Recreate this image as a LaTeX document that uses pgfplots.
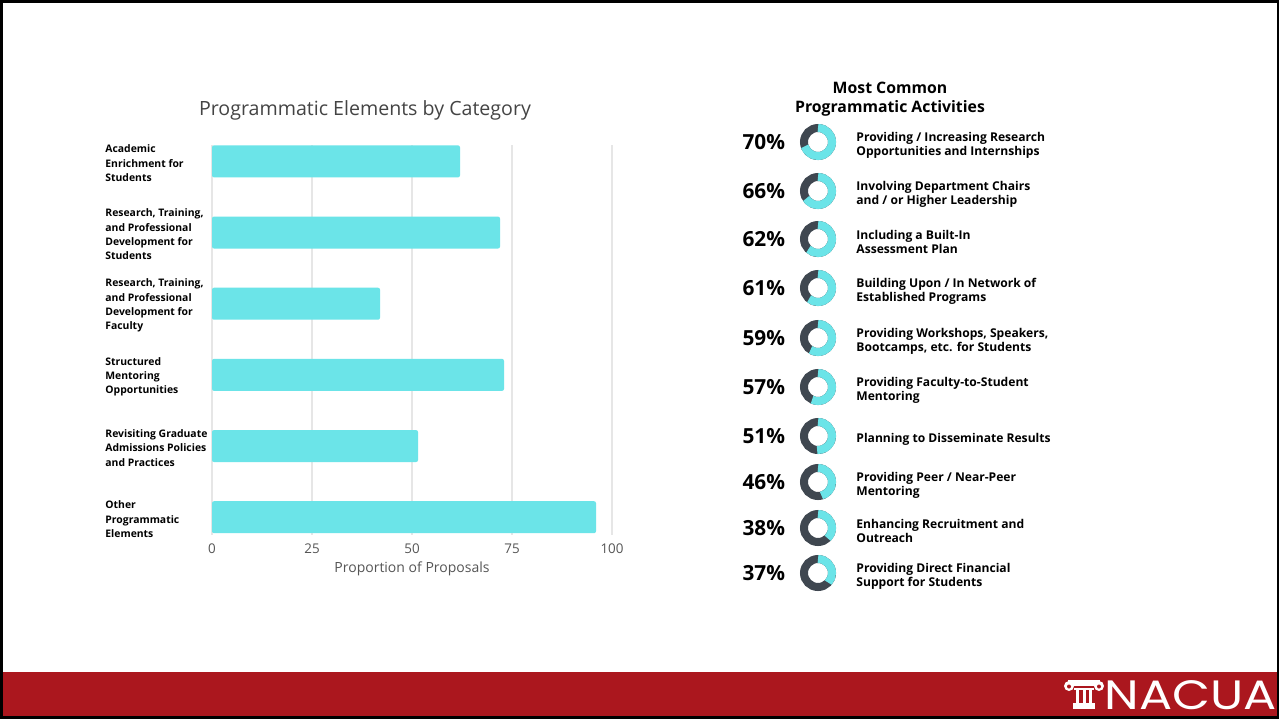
\documentclass[border=0pt]{standalone}
\usepackage{pgfplots}
\pgfplotsset{compat=1.18}
\usepackage{pgfplotstable}
\usepackage{fontspec}
\setmainfont{Open Sans}
\newfontfamily\logofont[FakeStretch=1.2]{Poppins}
\definecolor{barcyan}{HTML}{6BE4E8}
\definecolor{ringdark}{HTML}{3F4750}
\definecolor{nacured}{HTML}{AB171E}
\definecolor{gridgray}{HTML}{E6E6E6}
\definecolor{ticktext}{HTML}{555555}
\definecolor{titletext}{HTML}{444444}

\pgfplotstableread{
row val
0 62
1 72
2 42
3 73
4 51.5
5 96
}\bardata

\pgfplotstableread{
x y pct
818 142 70
818 191 66
818 239 62
818 288 61
818 338 59
818 387 57
818 436 51
818 482 46
818 528 38
818 573 37
}\donutdata

% donut mark: dark ring with a cyan arc of \pct percent, clockwise from the top
\pgfdeclareplotmark{donut}{%
  \pgfsetlinewidth{4pt}%
  \pgfsetstrokecolor{ringdark}%
  \pgfpathcircle{\pgfpointorigin}{7pt}%
  \pgfusepath{stroke}%
  \pgfmathsetmacro\donutend{90-3.6*\pct}%
  \pgfsetstrokecolor{barcyan}%
  \pgfpathmoveto{\pgfpointpolar{90}{7pt}}%
  \pgfpatharc{90}{\donutend}{7pt}%
  \pgfusepath{stroke}%
}

\begin{document}
\begin{tikzpicture}[x=0.5pt,y=0.5pt]
\fill[black] (0,0) rectangle (1279,719);
\fill[white] (3,3) rectangle (1277,716);
\fill[nacured] (3,3) rectangle (1277,47);

% ---------- bar chart ----------
\begin{axis}[
  at={(106pt,92pt)}, anchor=south west,
  scale only axis, width=200pt, height=195pt,
  xbar, bar width=16pt,
  xmin=0, xmax=100, ymin=-0.23, ymax=5.25, y dir=reverse,
  xtick={0,25,50,75,100},
  ytick={0,1,2,3,4,5},
  yticklabels={
    {Academic\\Enrichment for\\Students},
    {Research, Training,\\and Professional\\Development for\\Students},
    {Research, Training,\\and Professional\\Development for\\Faculty},
    {Structured\\Mentoring\\Opportunities},
    {Revisiting Graduate\\Admissions Policies\\and Practices},
    {Other\\Programmatic\\Elements}},
  axis line style={draw=none},
  major tick length=0pt,
  xmajorgrids, grid style={gridgray, line width=0.6pt},
  xticklabel style={font=\fontsize{6.7}{8}\selectfont, text=ticktext, yshift=-1pt},
  /pgf/number format/assume math mode=true,
  yticklabel style={font=\bfseries\fontsize{5.2}{7.15}\selectfont, align=left,
     inner sep=0pt, anchor=west, xshift=-53.5pt, yshift=-1pt, text=black},
  xlabel={Proportion of Proposals},
  xlabel style={font=\fontsize{7}{8}\selectfont, text=ticktext,
     at={(axis description cs:0.5,0)}, anchor=center, yshift=-17pt},
  title={Programmatic Elements by Category},
  title style={font=\fontsize{9.8}{12}\selectfont, text=titletext,
     at={(axis description cs:0.3825,1)}, anchor=base, yshift=9pt},
]
\addplot[draw=none, fill=barcyan, rounded corners=1pt] table[x=val, y=row]{\bardata};
\end{axis}

% ---------- donut list ----------
\node[align=center, font=\bfseries\fontsize{7.9}{9.5}\selectfont, text=black]
  at (890,{719-99}) {Most Common\\Programmatic Activities};

\begin{axis}[
  at={(365pt,59.5pt)}, anchor=south west,
  scale only axis, width=60pt, height=240pt,
  xmin=730, xmax=850, ymin=120, ymax=600, y dir=reverse,
  hide axis, clip=false,
]
\addplot[only marks, mark=donut,
  visualization depends on={\thisrow{pct}\as\pct},
  point meta=explicit,
  nodes near coords={\pgfmathprintnumber[assume math mode=true]{\pgfplotspointmeta}\%},
  every node near coord/.append style={anchor=east, xshift=-14.5pt, yshift=0pt, inner sep=0pt,
    text=black, font=\bfseries\fontsize{10.4}{12}\selectfont},
] table[x=x, y=y, meta=pct]{\donutdata};

\begin{scope}[every node/.style={anchor=west, align=left, inner sep=0pt, yshift=-1.5pt,
   font=\bfseries\fontsize{6.05}{7}\selectfont, text=black}]
\node at (axis cs:856,142) {Providing / Increasing Research\\Opportunities and Internships};
\node at (axis cs:856,191) {Involving Department Chairs\\and / or Higher Leadership};
\node at (axis cs:856,239) {Including a Built-In\\Assessment Plan};
\node at (axis cs:856,288) {Building Upon / In Network of\\Established Programs};
\node at (axis cs:856,338) {Providing Workshops, Speakers,\\Bootcamps, etc. for Students};
\node at (axis cs:856,387) {Providing Faculty-to-Student\\Mentoring};
\node at (axis cs:856,436) {Planning to Disseminate Results};
\node at (axis cs:856,482) {Providing Peer / Near-Peer\\Mentoring};
\node at (axis cs:856,528) {Enhancing Recruitment and\\Outreach};
\node at (axis cs:856,573) {Providing Direct Financial\\Support for Students};
\end{scope}
\end{axis}

% ---------- logo ----------
\begin{scope}[white]
\fill (1068,33) rectangle (1100,39);
\fill (1069,33) circle[radius=5];
\fill (1099,33) circle[radius=5];
\fill[nacured] (1069,32.5) circle[radius=2];
\fill[nacured] (1099,32.5) circle[radius=2];
\fill (1074,29) rectangle (1094,31);
\fill (1076,16) rectangle (1079,29);
\fill (1082.5,16) rectangle (1085.5,29);
\fill (1089,16) rectangle (1092,29);
\fill (1073,10) rectangle (1095,16);
\end{scope}
\node[anchor=base west, inner sep=0pt, text=white, font=\logofont\fontsize{20.5}{22}\selectfont]
  at (1104,10) {NACUA};
\end{tikzpicture}
\end{document}
